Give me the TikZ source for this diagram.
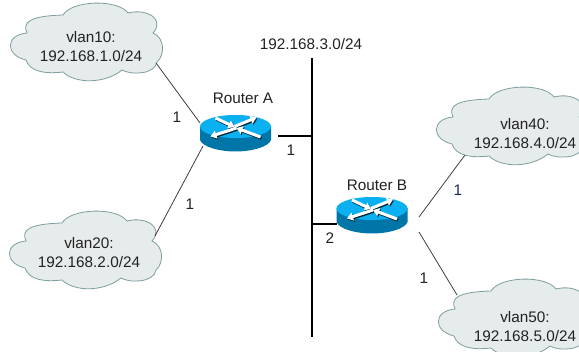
\documentclass[tikz,border=0pt]{standalone}
\usepackage{fontspec}
\usetikzlibrary{arrows.meta}
\setmainfont{Liberation Sans}
\definecolor{cloudfill}{HTML}{E6EBEB}
\definecolor{clouddraw}{HTML}{7F9E9E}
\definecolor{rtop}{HTML}{0AB0F0}
\definecolor{rside}{HTML}{0076A8}
\definecolor{txt}{HTML}{222222}
\definecolor{navy}{HTML}{1A2A55}
\tikzset{
  lbl/.style={font=\fontsize{15.3}{19}\selectfont,text=txt,inner sep=0pt,align=center},
  link/.style={draw=black!75,line width=0.8pt},
  bus/.style={draw=black,line width=1.8pt},
  cloudshape/.style={fill=cloudfill,draw=clouddraw,line width=0.8pt},
  routerbox/.style={minimum width=71pt,minimum height=36pt,inner sep=0pt},
  arm/.style={line width=3pt,-{Triangle[length=6pt,width=8pt]}},
  pics/routerarms/.style={code={
      \draw[arm] (-20,-15) -- (-1,-6);
      \draw[arm] (-1,-6.5) -- (21,-15.5);
      \draw[arm] (1,-5) -- (-25,3.5);
      \draw[arm] (25,4) -- (1,-5);
  }},
  pics/cloudp/.style={code={
    \path[cloudshape] (27,33)
      .. controls (22,22) and (30,16) .. (63,15)
      .. controls (72,0) and (118,-1) .. (128,13)
      .. controls (148,8) and (165,20) .. (153,33)
      .. controls (165,38) and (165,55) .. (157,62)
      .. controls (155,75) and (130,75) .. (122,70)
      .. controls (105,84) and (75,84) .. (63,72)
      .. controls (45,74) and (30,72) .. (26,60)
      .. controls (5,55) and (5,35) .. (27,33) -- cycle;
  }},
  pics/routerp/.style={code={
    % origin at centre of the router box; 71 wide, 36 high
    \fill[rside] (-35.5,-7) -- (-35.5,7) .. controls (-33,14) and (-16,18.5) .. (0,18.5)
       .. controls (16,18.5) and (33,14) .. (35.5,7) -- (35.5,-7) -- cycle;
    \fill[rtop] (0,-6.5) ellipse [x radius=35.5,y radius=11.5];
    \pic[draw=black!70!rside,color=black!70!rside] at (0.9,1.2) {routerarms};
    \pic[draw=white,color=white] at (0,0) {routerarms};
  }}
}
\begin{document}
\begin{tikzpicture}[x=1pt,y=-1pt]
\path[use as bounding box] (0,0) rectangle (579,352);
\clip (0,0) rectangle (579,352);
\fill[white] (0,0) rectangle (579,352);
% clouds
\pic at (0,0) {cloudp};
\pic at (-1,208) {cloudp};
\pic at (426,84) {cloudp};
\pic at (428,276) {cloudp};
% cloud text
\node[lbl] (v10) at (91,47) {vlan10:\\192.168.1.0/24};
\node[lbl] (v20) at (89,253) {vlan20:\\192.168.2.0/24};
\node[lbl] (v40) at (525,134) {vlan40:\\192.168.4.0/24};
\node[lbl] (v50) at (525,327) {vlan50:\\192.168.5.0/24};
% routers
\pic at (235.5,133) {routerp};
\pic at (372,215) {routerp};
\node[routerbox] (ra) at (235.5,133) {};
\node[routerbox] (rb) at (372,215) {};
\node[lbl] (ralabel) at (243,98) {Router A};
\node[lbl] (rblabel) at (377,185) {Router B};
\node[lbl] (net3) at (311,44) {192.168.3.0/24};
% free ends
\coordinate (c10) at (156,63);
\coordinate (c20) at (155,236);
\coordinate (c40) at (465,155);
\coordinate (c50) at (457,295);
\coordinate (ra1) at (200,123);
\coordinate (ra2) at (203,146);
\coordinate (rb1) at (419,217);
\coordinate (rb2) at (419,232);
\coordinate (bustop) at (312,58);
\coordinate (busbot) at (312,337);
\coordinate (busa) at (312,136);
\coordinate (busb) at (312,224);
\coordinate (raport) at (278,136);
\coordinate (rbport) at (337,224);
% connectors
\draw[link] (c10) -- (ra1);
\draw[link] (c20) -- (ra2);
\draw[link] (c40) -- (rb1);
\draw[link] (c50) -- (rb2);
\draw[bus] (bustop) -- (busbot);
\draw[bus,line width=1.4pt] (raport) -- (busa);
\draw[bus,line width=1.4pt] (rbport) -- (busb);
% port labels
\node[lbl] (p1) at (177,117) {1};
\node[lbl] (p2) at (190,204) {1};
\node[lbl] (p3) at (291,150) {1};
\node[lbl] (p4) at (330,238) {2};
\node[lbl,text=navy] (p5) at (458,190) {1};
\node[lbl] (p6) at (424,278) {1};
\end{tikzpicture}
\end{document}
